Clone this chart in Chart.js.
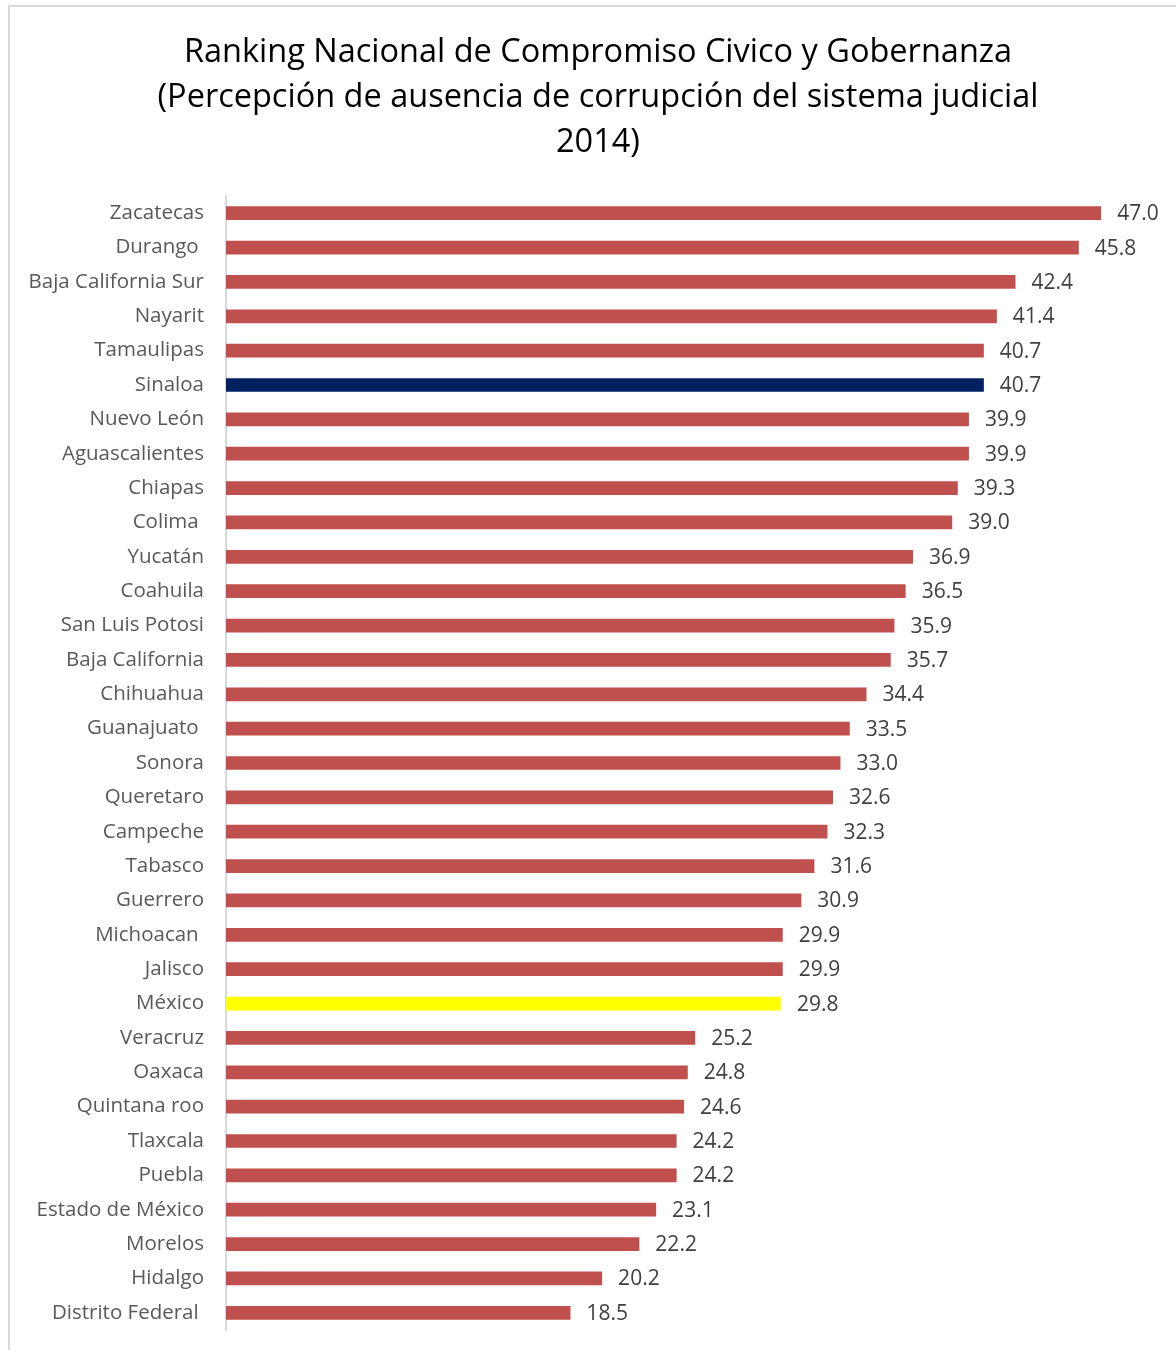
<!DOCTYPE html>
<html>
<head>
<meta charset="utf-8">
<script src="https://cdn.jsdelivr.net/npm/chart.js@4"></script>
<style>
  html, body { margin: 0; padding: 0; background: #fff; }
  #wrap { position: relative; width: 1176px; height: 1350px; }
</style>
</head>
<body>
<div id="wrap"><canvas id="chart"></canvas></div>
<script>
const FONT = "'Open Sans', Lato, sans-serif";

const states = [
  'Zacatecas', 'Durango ', 'Baja California Sur', 'Nayarit', 'Tamaulipas', 'Sinaloa',
  'Nuevo León', 'Aguascalientes', 'Chiapas', 'Colima ', 'Yucatán', 'Coahuila',
  'San Luis Potosi', 'Baja California', 'Chihuahua', 'Guanajuato ', 'Sonora', 'Queretaro',
  'Campeche', 'Tabasco', 'Guerrero', 'Michoacan ', 'Jalisco', 'México',
  'Veracruz', 'Oaxaca', 'Quintana roo', 'Tlaxcala', 'Puebla', 'Estado de México',
  'Morelos', 'Hidalgo', 'Distrito Federal '
];
const scores = [
  47.0, 45.8, 42.4, 41.4, 40.7, 40.7,
  39.9, 39.9, 39.3, 39.0, 36.9, 36.5,
  35.9, 35.7, 34.4, 33.5, 33.0, 32.6,
  32.3, 31.6, 30.9, 29.9, 29.9, 29.8,
  25.2, 24.8, 24.6, 24.2, 24.2, 23.1,
  22.2, 20.2, 18.5
];
const highlight = { 'Sinaloa': '#002060', 'México': '#FFFF00' };
const RED = '#C0504D';

const titleLines = [
  'Ranking Nacional de Compromiso Civico y Gobernanza',
  '(Percepción de ausencia de corrupción del sistema judicial',
  '2014)'
];

/* ── value labels right of each bar ─────────────────────────────────────── */
const valueLabels = {
  id: 'valueLabels',
  afterDatasetsDraw(chart) {
    const ctx = chart.ctx;
    const meta = chart.getDatasetMeta(0);
    ctx.save();
    ctx.font = '21px ' + FONT;
    ctx.fillStyle = '#404040';
    ctx.textAlign = 'left';
    ctx.textBaseline = 'middle';
    meta.data.forEach((bar, i) => {
      ctx.fillText(scores[i].toFixed(1), bar.x + 16, bar.y + 1);
    });
    ctx.restore();
  }
};

/* ── frame (left + top edge) and the three-line title ───────────────────── */
const frameAndTitle = {
  id: 'frameAndTitle',
  beforeDraw(chart) {
    const ctx = chart.ctx;
    ctx.save();
    ctx.strokeStyle = '#D9D9D9';
    ctx.lineWidth = 2;
    ctx.beginPath();
    ctx.moveTo(9, 1350);
    ctx.lineTo(9, 6);
    ctx.lineTo(1176, 6);
    ctx.stroke();

    ctx.font = '32.5px ' + FONT;
    ctx.fillStyle = '#000';
    ctx.textAlign = 'center';
    ctx.textBaseline = 'middle';
    titleLines.forEach((t, i) => ctx.fillText(t, 598, 53 + i * 45));
    ctx.restore();
  }
};

new Chart(document.getElementById('chart'), {
  type: 'bar',
  data: {
    labels: states,
    datasets: [{
      data: scores,
      backgroundColor: states.map(s => highlight[s] || RED),
      borderWidth: 0,
      barPercentage: 0.4,
      categoryPercentage: 1
    }]
  },
  options: {
    indexAxis: 'y',
    responsive: true,
    maintainAspectRatio: false,
    animation: false,
    layout: { padding: { left: 16, right: 19, top: 196, bottom: 20 } },
    plugins: {
      legend: { display: false },
      tooltip: { enabled: false },
      title: { display: false }
    },
    scales: {
      x: { display: false, min: 0, max: 50 },
      y: {
        grid: { display: false, drawTicks: false },
        border: { display: true, color: '#D9D9D9', width: 2 },
        ticks: { color: '#595959', font: { family: FONT, size: 20.5 }, padding: 22, autoSkip: false },
        afterFit(scale) {
          scale.width = 226 - 16;
          scale.paddingTop = 0;
          scale.paddingBottom = 0;
        }
      }
    }
  },
  plugins: [frameAndTitle, valueLabels]
});
</script>
</body>
</html>
